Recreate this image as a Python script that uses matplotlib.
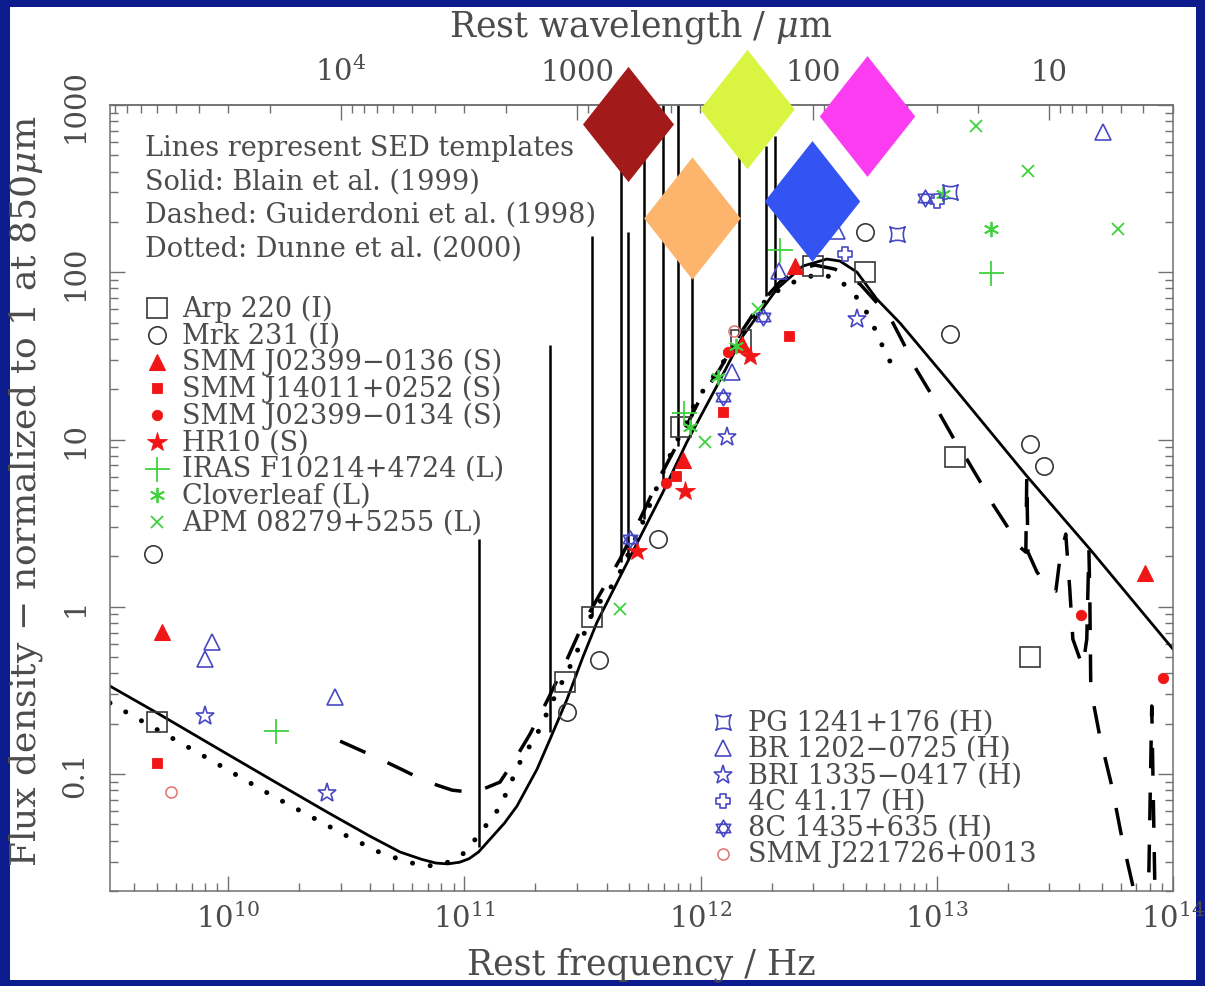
import numpy as np
import matplotlib
matplotlib.use("Agg")
import matplotlib.pyplot as plt
from matplotlib.path import Path
from matplotlib.patches import Rectangle
from matplotlib.ticker import LogLocator, NullFormatter

plt.rcParams["font.family"] = ["DejaVu Serif"]
plt.rcParams["mathtext.fontset"] = "dejavuserif"

W, H = 1205, 987
C_MICRON_HZ = 2.998e14  # c in micron * Hz

# ---------------- SED templates: log10(nu / Hz), log10(normalised flux) ----------------
blain_lognu = [9.500, 9.700, 9.996, 10.200, 10.419, 10.600, 10.728, 10.820, 10.880,
               10.930, 10.980, 11.020, 11.060, 11.109, 11.170, 11.223, 11.308, 11.363,
               11.435, 11.502, 11.562, 11.701, 11.841, 11.942, 12.069, 12.179, 12.323,
               12.433, 12.535, 12.590, 12.662, 12.746, 12.844, 13.043, 13.381, 13.648,
               14.000]
blain_logS = [-0.474, -0.635, -0.880, -1.048, -1.227, -1.371, -1.466, -1.510, -1.532,
              -1.537, -1.527, -1.506, -1.466, -1.389, -1.293, -1.191, -0.970, -0.791,
              -0.552, -0.300, -0.091, 0.297, 0.686, 0.985, 1.320, 1.619, 1.900,
              2.037, 2.079, 2.067, 2.001, 1.840, 1.697, 1.362, 0.782, 0.345,
              -0.253]

dunne_lognu = [9.500, 9.882, 10.190, 10.504, 10.656, 10.821, 10.906, 10.990, 11.054,
               11.151, 11.236, 11.312, 11.392, 11.468, 11.545, 11.646, 11.756, 11.858,
               11.985, 12.069, 12.167, 12.251, 12.336, 12.421, 12.505, 12.581, 12.641,
               12.696, 12.738, 12.772, 12.814]
dunne_logS = [-0.575, -0.880, -1.132, -1.371, -1.478, -1.550, -1.544, -1.484, -1.377,
              -1.197, -0.928, -0.749, -0.510, -0.300, -0.025, 0.166, 0.507, 0.865,
              1.242, 1.404, 1.619, 1.798, 1.900, 1.960, 1.990, 1.960, 1.888,
              1.780, 1.661, 1.553, 1.433]

guid_lognu = [10.474, 10.643, 10.749, 10.834, 10.948, 11.024, 11.058, 11.151, 11.215,
              11.278, 11.354, 11.426, 11.502, 11.574, 11.659, 11.744, 11.828, 11.913,
              11.997, 12.082, 12.167, 12.251, 12.336, 12.421, 12.484, 12.569, 12.675,
              12.759, 12.810, 12.865, 12.907, 12.971, 13.013, 13.068, 13.127, 13.182,
              13.237, 13.297, 13.352, 13.377, 13.381, 13.386, 13.424, 13.479, 13.504,
              13.521, 13.546, 13.563, 13.576, 13.618, 13.635, 13.644, 13.648, 13.652,
              13.690, 13.741, 13.783, 13.838, 13.859, 13.893, 13.910, 13.927]
guid_logS = [-0.803, -0.910, -0.982, -1.042, -1.096, -1.108, -1.102, -1.048, -0.910,
             -0.761, -0.552, -0.342, -0.103, 0.076, 0.285, 0.525, 0.776, 1.003,
             1.242, 1.422, 1.631, 1.810, 1.942, 2.019, 2.043, 2.019, 1.930,
             1.798, 1.709, 1.559, 1.434, 1.284, 1.152, 1.015, 0.883, 0.752,
             0.614, 0.483, 0.357, 0.327, 0.782, 0.327, 0.208, 0.106, 0.094,
             0.285, 0.435, 0.106, -0.193, -0.360, -0.193, 0.345, 0.046, -0.492,
             -0.773, -1.072, -1.377, -1.717, -1.987, -1.987, -0.593, -1.987]

# line features in the Guiderdoni template (nu, base, peak)
line_nu = [1.15e11, 2.30e11, 3.46e11, 4.61e11, 4.92e11, 5.76e11, 6.91e11, 8.06e11,
           9.22e11, 1.461e12, 1.90e12, 2.06e12]
line_base = [0.0366, 0.178, 0.88, 1.85, 1.93, 3.35, 5.57, 9.1, 13.8, 44, 72, 76]
line_peak = [2.54, 36.7, 165, 1000, 174, 1000, 1000, 1000, 274, 1000, 569, 653]

# ---------------- observed sources (nu / Hz, normalised flux) ----------------
arp220_nu = [5.0e9, 2.67e11, 3.47e11, 8.3e11, 1.48e12, 2.99e12, 4.97e12, 1.19e13, 2.48e13]
arp220_S = [0.205, 0.355, 0.87, 11.9, 39.4, 109, 100, 7.85, 0.50]

mrk231_nu = [4.82e9, 2.72e11, 3.72e11, 6.61e11, 4.97e12, 1.135e13, 2.48e13, 2.84e13]
mrk231_S = [2.07, 0.235, 0.48, 2.54, 174, 42.8, 9.4, 6.95]

j02399_0136_nu = [5.26e9, 8.43e11, 1.50e12, 2.51e12, 7.6e13]
j02399_0136_S = [0.71, 7.5, 37.2, 109, 1.59]

j14011_nu = [5.0e9, 7.87e11, 1.245e12, 2.37e12]
j14011_S = [0.116, 6.05, 14.6, 41.6]

j02399_0134_nu = [7.15e11, 1.31e12, 4.07e13, 9.06e13]
j02399_0134_S = [5.5, 33.3, 0.89, 0.375]

hr10_nu = [5.38e11, 8.6e11, 1.62e12]
hr10_S = [2.15, 4.92, 31.5]

f10214_nu = [1.6e10, 8.5e11, 2.17e12, 1.69e13]
f10214_S = [0.18, 14.4, 136, 99]

cloverleaf_nu = [9.0e11, 1.19e12, 1.41e12, 1.06e13, 1.69e13]
cloverleaf_S = [11.9, 23.7, 36.2, 294, 181]

apm08279_nu = [4.56e11, 1.045e12, 1.75e12, 1.46e13, 2.43e13, 5.83e13]
apm08279_S = [0.97, 9.66, 60, 748, 403, 181]

pg1241_nu = [6.78e12, 1.135e13]
pg1241_S = [169, 302]

br1202_nu = [8.0e9, 8.55e9, 2.84e10, 1.36e12, 2.15e12, 3.78e12, 5.05e13]
br1202_S = [0.487, 0.615, 0.288, 25.4, 102, 177, 690]

bri1335_nu = [8.0e9, 2.62e10, 1.29e12, 4.59e12]
bri1335_S = [0.222, 0.077, 10.35, 52.5]

c4117_nu = [4.08e12, 1.0e13]
c4117_S = [128, 267]

c1435_nu = [5.02e11, 1.245e12, 1.84e12, 8.9e12]
c1435_S = [2.54, 18.0, 54, 278]

j221726_nu = [5.74e9, 1.38e12]
j221726_S = [0.078, 44.6]

# coloured band markers
band_nu = [4.91e11, 9.2e11, 1.57e12, 2.96e12, 5.06e12]
band_S = [775, 211, 946, 267, 859]

# ---------------- marker shapes ----------------
def concave_square():
    v = [(-1, -1), (0, -0.5), (1, -1), (0.5, 0), (1, 1), (0, 0.5), (-1, 1), (-0.5, 0),
         (-1, -1), (-1, -1)]
    c = [Path.MOVETO] + [Path.CURVE3] * 8 + [Path.CLOSEPOLY]
    return Path(v, c)


def open_cross():
    a = 0.38
    v = [(-a, 1), (a, 1), (a, a), (1, a), (1, -a), (a, -a), (a, -1), (-a, -1),
         (-a, -a), (-1, -a), (-1, a), (-a, a), (-a, 1)]
    c = [Path.MOVETO] + [Path.LINETO] * 11 + [Path.CLOSEPOLY]
    return Path(v, c)


def hexagram():
    s = np.sqrt(3) / 2
    up = Path([(0, 1), (s, -0.5), (-s, -0.5), (0, 1)],
              [Path.MOVETO, Path.LINETO, Path.LINETO, Path.CLOSEPOLY])
    dn = Path([(0, -1), (s, 0.5), (-s, 0.5), (0, -1)],
              [Path.MOVETO, Path.LINETO, Path.LINETO, Path.CLOSEPOLY])
    return Path.make_compound_path(up, dn)


DIAMOND = Path([(0, 1), (0.79, 0), (0, -1), (-0.79, 0), (0, 1)],
               [Path.MOVETO, Path.LINETO, Path.LINETO, Path.LINETO, Path.CLOSEPOLY])

BLK = "#383838"
RED = "#f01616"
GRN = "#3fd23f"
BLU = "#4848c4"
PNK = "#e07272"

sources_left = [
    ("Arp 220 (I)", arp220_nu, arp220_S,
     dict(marker="s", ms=14, mfc="none", mec=BLK, mew=1.2)),
    ("Mrk 231 (I)", mrk231_nu, mrk231_S,
     dict(marker="o", ms=12.5, mfc="none", mec=BLK, mew=1.2)),
    ("SMM J02399\u22120136 (S)", j02399_0136_nu, j02399_0136_S,
     dict(marker="^", ms=11, mfc=RED, mec=RED, mew=0.8)),
    ("SMM J14011+0252 (S)", j14011_nu, j14011_S,
     dict(marker="s", ms=6.5, mfc=RED, mec=RED, mew=0.6)),
    ("SMM J02399\u22120134 (S)", j02399_0134_nu, j02399_0134_S,
     dict(marker="o", ms=7.5, mfc=RED, mec=RED, mew=0.6)),
    ("HR10 (S)", hr10_nu, hr10_S,
     dict(marker="*", ms=15, mfc=RED, mec=RED, mew=0.6)),
    ("IRAS F10214+4724 (L)", f10214_nu, f10214_S,
     dict(marker="+", ms=18, mec=GRN, mew=1.3)),
    ("Cloverleaf (L)", cloverleaf_nu, cloverleaf_S,
     dict(marker=(6, 2, 0), ms=11, mec=GRN, mew=1.3)),
    ("APM 08279+5255 (L)", apm08279_nu, apm08279_S,
     dict(marker="x", ms=9, mec=GRN, mew=1.3)),
]

sources_right = [
    ("PG 1241+176 (H)", pg1241_nu, pg1241_S,
     dict(marker=concave_square(), ms=11, mfc="none", mec=BLU, mew=1.2)),
    ("BR 1202\u22120725 (H)", br1202_nu, br1202_S,
     dict(marker="^", ms=11, mfc="none", mec=BLU, mew=1.2)),
    ("BRI 1335\u22120417 (H)", bri1335_nu, bri1335_S,
     dict(marker="*", ms=14, mfc="none", mec=BLU, mew=1.2)),
    ("4C 41.17 (H)", c4117_nu, c4117_S,
     dict(marker=open_cross(), ms=10, mfc="none", mec=BLU, mew=1.2)),
    ("8C 1435+635 (H)", c1435_nu, c1435_S,
     dict(marker=hexagram(), ms=12, mfc="none", mec=BLU, mew=1.2)),
    ("SMM J221726+0013", j221726_nu, j221726_S,
     dict(marker="o", ms=8, mfc="none", mec=PNK, mew=1.1)),
]

band_colors = ["#a31a1a", "#fdb56e", "#d9f542", "#3354f2", "#fb3cf0"]
band_sizes = [83, 88, 86, 87, 87]

TXT = "#4c4c4c"
AXC = "#707070"

# ---------------- figure ----------------
fig = plt.figure(figsize=(W / 100, H / 100), dpi=100, facecolor="#0c1c8e")
panel = Rectangle((10 / W, 1 - 981 / H), 1186 / W, 973 / H,
                  transform=fig.transFigure, facecolor="white",
                  edgecolor="none", zorder=-10)
fig.add_artist(panel)

ax = fig.add_axes([110 / W, 1 - 892 / H, (1173 - 110) / W, (892 - 106) / H])
ax.set_zorder(1)
ax.set_facecolor("white")
ax.set_xscale("log")
ax.set_yscale("log")
ax.set_xlim(10 ** 9.5, 1e14)
ax.set_ylim(0.02, 1000)

# templates
ax.plot(10 ** np.array(blain_lognu), 10 ** np.array(blain_logS), color="k", lw=2.0,
        zorder=2, solid_joinstyle="round")
ax.plot(10 ** np.array(dunne_lognu), 10 ** np.array(dunne_logS), color="k", lw=3.6,
        linestyle=(0, (0.01, 3.6)), dash_capstyle="round", zorder=2)
ax.plot(10 ** np.array(guid_lognu), 10 ** np.array(guid_logS), color="k", lw=2.5,
        linestyle=(0, (8, 7)), dash_capstyle="butt", zorder=2)
ax.vlines(line_nu, line_base, line_peak, colors="k", lw=1.8, zorder=2)

# sources
for label, nu, s, st in sources_left + sources_right:
    ax.plot(nu, s, linestyle="none", zorder=4, **st)

# band markers drawn over the frame
for nu, s, col, sz in zip(band_nu, band_S, band_colors, band_sizes):
    ax.plot([nu], [s], linestyle="none", marker=DIAMOND, ms=sz, mfc=col, mec=col,
            mew=0, clip_on=False, zorder=20)

# axes styling
for sp in ax.spines.values():
    sp.set_color(AXC)
    sp.set_linewidth(1.1)
ax.tick_params(which="both", direction="in", top=False, right=True, colors=AXC,
               labelcolor=TXT, width=1.0)
ax.tick_params(which="major", length=11)
ax.tick_params(which="minor", length=5.5)
ax.tick_params(axis="x", which="major", labelsize=21, pad=8)
ax.tick_params(axis="y", which="major", labelsize=21, pad=15)

ax.set_xticks([1e10, 1e11, 1e12, 1e13, 1e14],
              labels=[r"$10^{10}$", r"$10^{11}$", r"$10^{12}$", r"$10^{13}$", r"$10^{14}$"])
ax.xaxis.set_minor_locator(LogLocator(base=10, subs=np.arange(2, 10), numticks=50))
ax.xaxis.set_minor_formatter(NullFormatter())
ax.set_yticks([0.1, 1, 10, 100, 1000], labels=["0.1", "1", "10", "100", "1000"])
ax.yaxis.set_minor_locator(LogLocator(base=10, subs=np.arange(2, 10), numticks=50))
ax.yaxis.set_minor_formatter(NullFormatter())
for t in ax.get_yticklabels():
    t.set_rotation(90)
    t.set_va("center")


def nu_to_um(x):
    x = np.asarray(x, dtype=float)
    with np.errstate(divide="ignore", invalid="ignore"):
        return C_MICRON_HZ / x


sec = ax.secondary_xaxis("top", functions=(nu_to_um, nu_to_um))
sec.set_ticks([1e4, 1e3, 1e2, 1e1], labels=[r"$10^{4}$", "1000", "100", "10"])
sec.xaxis.set_minor_locator(LogLocator(base=10, subs=np.arange(2, 10), numticks=50))
sec.xaxis.set_minor_formatter(NullFormatter())
sec.tick_params(which="both", direction="in", colors=AXC, labelcolor=TXT, width=1.0)
sec.tick_params(which="major", length=11, labelsize=21, pad=14)
sec.tick_params(which="minor", length=5.5)
for sp in sec.spines.values():
    sp.set_color(AXC)
    sp.set_linewidth(1.1)

# axis titles
fig.text(641 / W, 1 - 36 / H, r"Rest wavelength / $\mu$m", ha="center", va="baseline",
         fontsize=25, color=TXT)
fig.text(641 / W, 1 - 975 / H, "Rest frequency / Hz", ha="center", va="baseline",
         fontsize=25, color=TXT)
fig.text(26 / W, 1 - 491 / H, "Flux density \u2212 normalized to 1 at 850$\\mu$m",
         ha="center", va="center", rotation=90, fontsize=26, color=TXT)

# template key
notes = ["Lines represent SED templates", "Solid: Blain et al. (1999)",
         "Dashed: Guiderdoni et al. (1998)", "Dotted: Dunne et al. (2000)"]
for i, s in enumerate(notes):
    fig.text(145 / W, 1 - (148 + 33.7 * i) / H, s, ha="left", va="center",
             fontsize=19.5, color=TXT, zorder=5)

# source keys
for i, (label, nu, s, st) in enumerate(sources_left):
    y = 1 - (309 + 26.75 * i) / H
    ax.plot([157 / W], [y], transform=fig.transFigure, clip_on=False,
            linestyle="none", zorder=5, **st)
    fig.text(182 / W, y, label, ha="left", va="center", fontsize=19.5, color=TXT,
             zorder=5)

for i, (label, nu, s, st) in enumerate(sources_right):
    y = 1 - (723 + 26.4 * i) / H
    ax.plot([723 / W], [y], transform=fig.transFigure, clip_on=False,
            linestyle="none", zorder=5, **st)
    fig.text(748 / W, y, label, ha="left", va="center", fontsize=19.5, color=TXT,
             zorder=5)

fig.savefig("out.png", dpi=100, facecolor=fig.get_facecolor())
